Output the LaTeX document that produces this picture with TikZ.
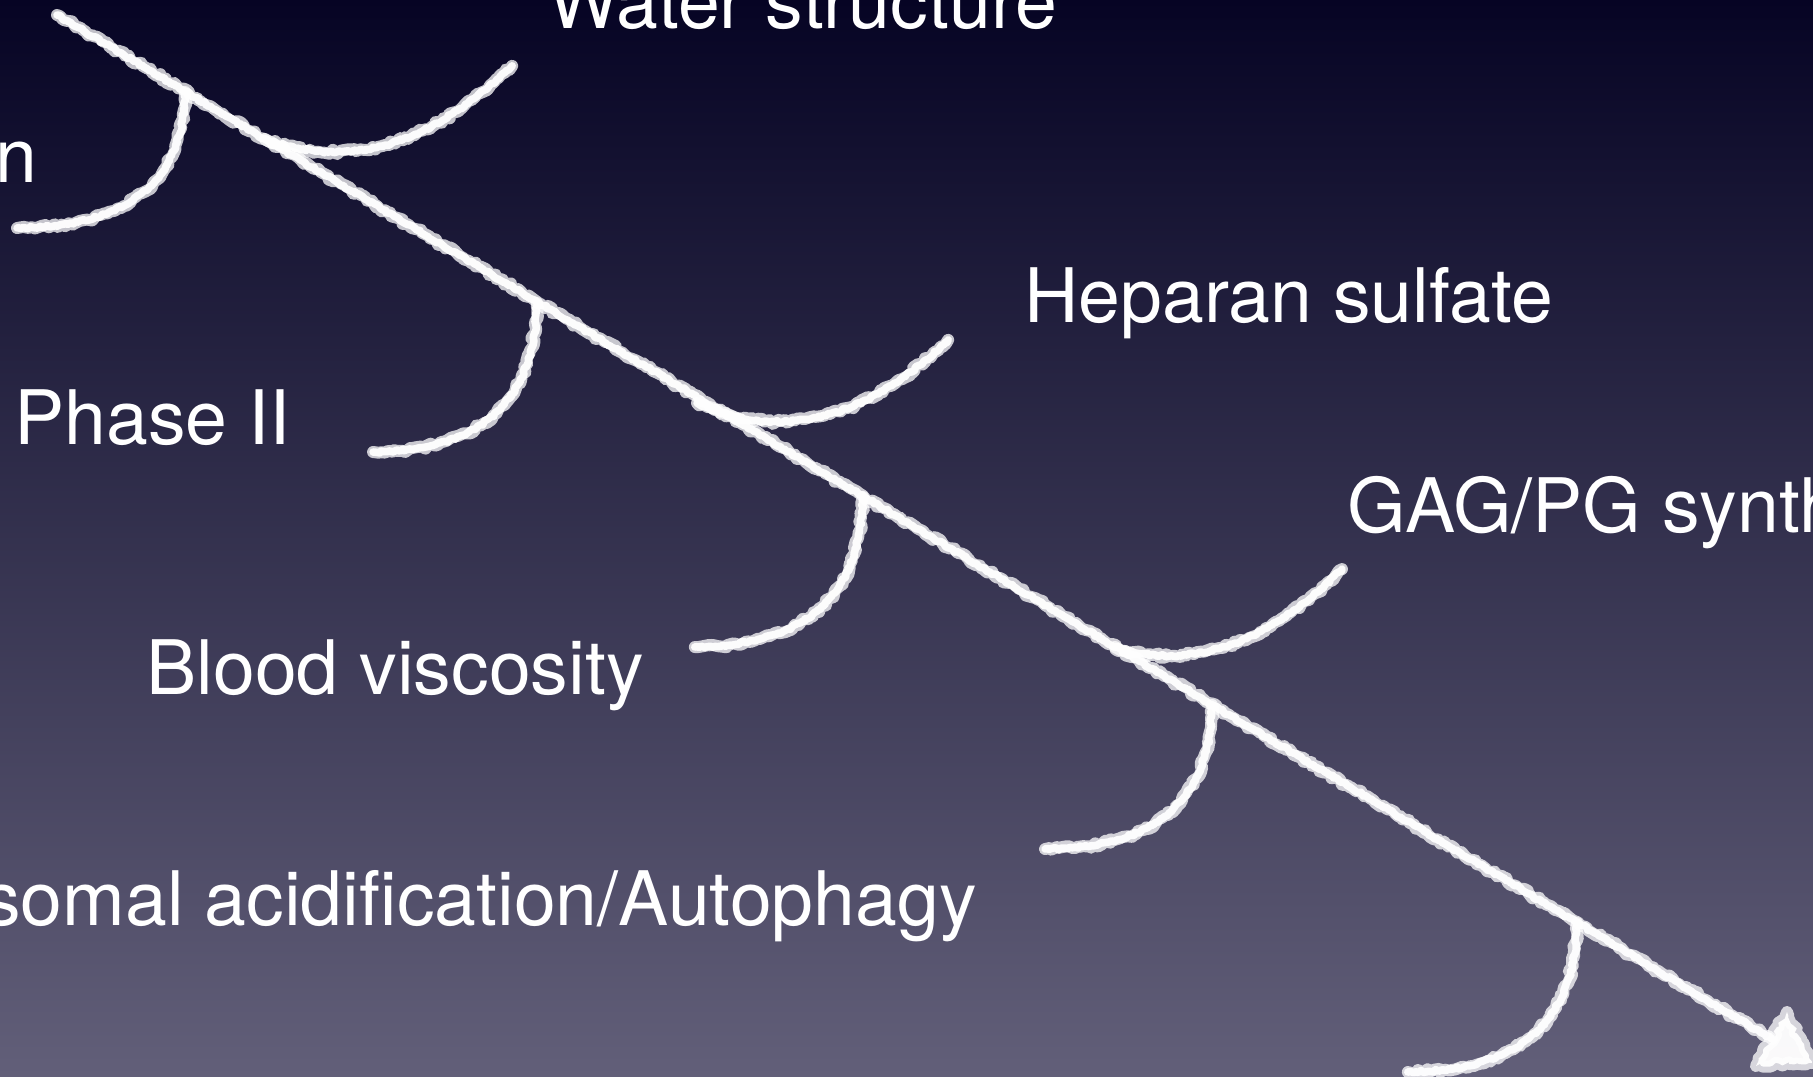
\documentclass[tikz,border=0pt]{standalone}
\usepackage{fontspec}
\setmainfont{TeX Gyre Heros}
\usetikzlibrary{decorations.pathmorphing,calc}
\definecolor{bgtop}{RGB}{6,4,36}
\definecolor{bgbot}{RGB}{98,95,121}
\begin{document}
\begin{tikzpicture}[x=0.5pt,y=-0.5pt,
  chalk/.style={draw=white, line width=6pt, line cap=round, line join=round, opacity=0.75,
    decorate, decoration={random steps, segment length=1.8pt, amplitude=1.1pt}},
  chalkcore/.style={draw=white, line width=3.8pt, line cap=round, line join=round, opacity=0.95,
    decorate, decoration={random steps, segment length=1.3pt, amplitude=0.6pt}},
  txt/.style={text=white, inner sep=0pt, font=\fontsize{37.6}{44}\selectfont}
]
\pgfmathsetseed{7}
\useasboundingbox (0,0) rectangle (1813,1076);
\begin{scope}
\clip (0,0) rectangle (1813,1076);
\shade[top color=bgtop, bottom color=bgbot] (0,0) rectangle (1813,1076);

% main spine
\coordinate (start) at (57,15);
\coordinate (tip) at (1812,1063);
\coordinate (hb) at (1772,1039);
\coordinate (ah1) at (1787,1012);
\coordinate (ah2) at (1756,1066);

% bottom branches
\coordinate (b1) at (185,92);   \coordinate (e1) at (17,228);
\coordinate (b2) at (537,303);  \coordinate (e2) at (373,452);
\coordinate (b3) at (863,497);  \coordinate (e3) at (695,647);
\coordinate (b4) at (1212,705); \coordinate (e4) at (1045,849);
\coordinate (b5) at (1577,923); \coordinate (e5) at (1408,1072);

% top branches
\coordinate (t1) at (265,139);  \coordinate (f1) at (512,66);
\coordinate (t2) at (697,403);  \coordinate (f2) at (948,340);
\coordinate (t3) at (1115,647); \coordinate (f3) at (1342,569);

\foreach \s in {chalk,chalkcore}{
  \draw[\s] (start) -- (hb);
  \draw[\s] (b1) .. controls ($(b1)+(-2,80)$) and ($(b1)+(-45,135)$) .. (e1);
  \draw[\s] (b2) .. controls ($(b2)+(-2,88)$) and ($(b2)+(-45,148)$) .. (e2);
  \draw[\s] (b3) .. controls ($(b3)+(-2,88)$) and ($(b3)+(-45,148)$) .. (e3);
  \draw[\s] (b4) .. controls ($(b4)+(-2,86)$) and ($(b4)+(-45,143)$) .. (e4);
  \draw[\s] (b5) .. controls ($(b5)+(-2,88)$) and ($(b5)+(-45,148)$) .. (e5);
  \draw[\s] (t1) .. controls ($(t1)+(70,25)$) and ($(t1)+(150,20)$) .. (f1);
  \draw[\s] (t2) .. controls ($(t2)+(75,35)$) and ($(t2)+(160,25)$) .. (f2);
  \draw[\s] (t3) .. controls ($(t3)+(60,20)$) and ($(t3)+(140,10)$) .. (f3);
}
\filldraw[chalk, fill=white, fill opacity=0.97] (ah1) -- (tip) -- (ah2) -- cycle;

% labels
\node[txt, anchor=base west] (water) at (548,28) {Water structure};
\node[txt, anchor=base east] (nlab) at (38,182) {n};
\node[txt, anchor=base west] (heparan) at (1024,322) {Heparan sulfate};
\node[txt, anchor=base west] (phase) at (14,444) {Phase II};
\node[txt, anchor=base west] (gag) at (1347,532) {GAG/PG synth};
\node[txt, anchor=base west] (blood) at (146,694) {Blood viscosity};
\node[txt, anchor=base east] (lyso) at (977,925) {somal acidification/Autophagy};
\end{scope}
\end{tikzpicture}
\end{document}
